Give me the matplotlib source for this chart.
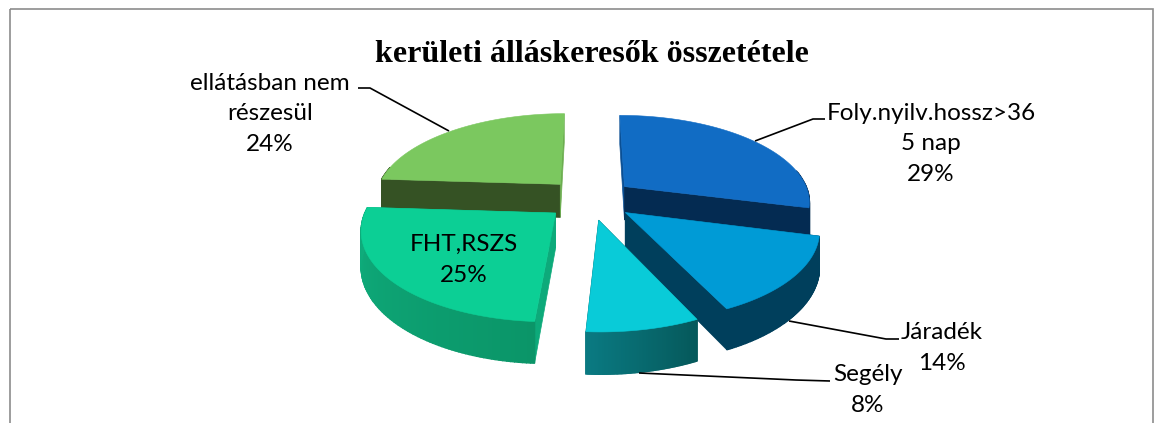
import numpy as np
import matplotlib
matplotlib.use('Agg')
import matplotlib.pyplot as plt
from matplotlib.colors import to_rgb
from matplotlib.patches import Rectangle

title = 'kerületi álláskeresők összetétele'
categories = ['Foly.nyilv.hossz>36\n5 nap', 'Járadék', 'Segély', 'FHT,RSZS', 'ellátásban nem\nrészesül']
shares = [29, 14, 8, 25, 24]

top_colors = ['#116CC4', '#009BD6', '#09CBD8', '#0CCF95', '#7BC85F']
start_wall = ['#0A4F94', '#003F5C', '#05585A', '#0DAA7A', '#355224']
end_wall = ['#042B52', '#003F5C', '#05585A', '#0DAA7A', '#6CAE50']
rim_left = ['#042B52', '#003F5C', '#0A7A82', '#0FAE7D', '#355224']
rim_right = ['#042B52', '#003F5C', '#05585A', '#0B9568', '#355224']

# pie geometry, in pixels
CX, CY = 590, 199
RX, RY = 186, 86.3
DEPTH = 34
PERSP = 0.16
EXPLODE = 0.24


def Project(x, y, z=0.0):
    s = 1.0 / (1.0 + PERSP * y)
    return CX + RX * x * s, CY - RY * y * s + DEPTH * z * s


def SlicePoints(a0, a1, off_x, off_y):
    t = np.radians(np.linspace(a0, a1, 80))
    px, py = Project(np.sin(t) + off_x, np.cos(t) + off_y)
    ax_, ay_ = Project(off_x, off_y)
    return np.r_[ax_, px], np.r_[ay_, py]


def DrawWall(ax, ang, off_x, off_y, color):
    t = np.radians(ang)
    x1, y1 = off_x + np.sin(t), off_y + np.cos(t)
    p = [Project(off_x, off_y), Project(x1, y1), Project(x1, y1, 1.0), Project(off_x, off_y, 1.0)]
    ax.fill([q[0] for q in p], [q[1] for q in p], color=color, lw=0.5)


def DrawRim(ax, a0, a1, off_x, off_y, c_left, c_right):
    edges = np.linspace(a0, a1, 90)
    for a, b in zip(edges[:-1], edges[1:]):
        # skip the part of the rim that faces away
        if np.cos(np.radians(a)) > 0.2:
            continue
        t = np.radians([a, b])
        x, y = np.sin(t) + off_x, np.cos(t) + off_y
        top = Project(x, y)
        low = Project(x, y, 1.0)
        f = (a1 - (a + b) / 2) / (a1 - a0)
        col = (1 - f) * np.array(to_rgb(c_left)) + f * np.array(to_rgb(c_right))
        ax.fill(np.r_[top[0], low[0][::-1]], np.r_[top[1], low[1][::-1]], color=col, lw=1.0)


def DrawSlice(ax, i, a0, a1):
    mid = np.radians((a0 + a1) / 2)
    ox, oy = EXPLODE * np.sin(mid), EXPLODE * np.cos(mid)
    DrawWall(ax, a0, ox, oy, start_wall[i])
    DrawWall(ax, a1, ox, oy, end_wall[i])
    DrawRim(ax, a0, a1, ox, oy, rim_left[i], rim_right[i])
    px, py = SlicePoints(a0, a1, ox, oy)
    ax.fill(px, py, color=top_colors[i], lw=0.4)


plt.rcParams['font.family'] = ['Lato', 'DejaVu Sans']
fig = plt.figure(figsize=(11.63, 4.23), dpi=100)
ax = fig.add_axes([0, 0, 1, 1])
ax.set_xlim(0, 1163)
ax.set_ylim(423, 0)
ax.axis('off')

ax.add_patch(Rectangle((9.5, 9.5), 1143, 430, fill=False, ec='#8C8C8C', lw=1.2, clip_on=True))

edges = np.r_[0, np.cumsum(shares)] * 3.6
for i in [4, 0, 1, 3, 2]:
    DrawSlice(ax, i, edges[i], edges[i + 1])

# leader lines
leaders = [
    [(755, 141), (813, 119), (825, 119)],
    [(789, 321), (886, 339), (899, 339)],
    [(639, 373), (796, 380), (830, 381)],
    None,
    [(449, 131), (370, 88), (358, 88)],
]
for pts in leaders:
    if pts is not None:
        ax.plot([p[0] for p in pts], [p[1] for p in pts], color='black', lw=1.2, solid_capstyle='butt')

label_pos = [(931, 144), (942, 348), (868, 390), (464, 260), (270, 114)]
for name, share, pos in zip(categories, shares, label_pos):
    ax.text(pos[0], pos[1], '%s\n%d%%' % (name, share), ha='center', va='center',
            multialignment='center', fontsize=17.5, linespacing=1.58, color='black')

ax.text(592, 54, title, ha='center', va='center', fontsize=23, fontweight='bold',
        family=['Liberation Serif', 'DejaVu Serif'], color='black')

fig.savefig('out.png', dpi=100)
